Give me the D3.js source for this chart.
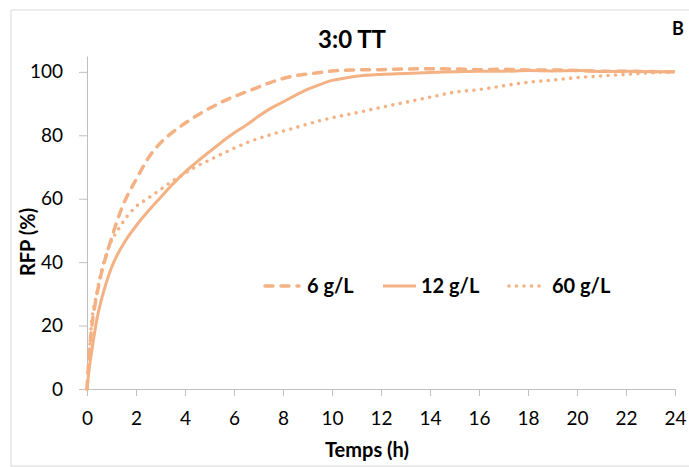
<!DOCTYPE html>
<html>
<head>
<meta charset="utf-8">
<script src="https://cdn.jsdelivr.net/npm/d3@7"></script>
<style>
  html, body { margin: 0; padding: 0; background: #fff; }
  svg { display: block; font-family: Lato, "Open Sans", sans-serif; }
</style>
</head>
<body>
<svg id="chart" width="689" height="467"></svg>
<script>
// ---- Data ----
const title = "3:0 TT";
const panelLetter = "B";
const xLabel = "Temps (h)";
const yLabel = "RFP (%)";
const xTicks = [0, 2, 4, 6, 8, 10, 12, 14, 16, 18, 20, 22, 24];
const yTicks = [0, 20, 40, 60, 80, 100];
const seriesNames = ["6 g/L", "12 g/L", "60 g/L"];

const t6 = [0, 0.1, 0.2, 0.35, 0.5, 0.65, 0.8, 1, 1.25, 1.5, 1.75, 2, 2.5, 3, 3.5, 4, 4.5, 5, 5.5, 6, 6.5, 7, 7.5, 8, 8.5, 9, 9.5, 10, 11, 12, 13, 14, 15, 16, 17, 18, 19, 20, 21, 22, 23, 24];
const v6 = [0, 12, 20, 27.5, 33.5, 38.5, 42.5, 47.5, 53.5, 58.5, 62.5, 66, 72.8, 77.6, 81, 83.8, 86.3, 88.5, 90.5, 92.2, 93.7, 95.2, 96.7, 97.9, 98.8, 99.3, 99.8, 100.3, 100.6, 100.7, 100.9, 101, 100.9, 100.7, 100.8, 100.6, 100.6, 100.4, 100.2, 100.2, 100.1, 100];

const t12 = [0, 0.1, 0.2, 0.3, 0.4, 0.55, 0.7, 0.85, 1, 1.25, 1.5, 1.75, 2, 2.5, 3, 3.5, 4, 4.5, 5, 5.5, 6, 6.5, 7, 7.5, 8, 8.5, 9, 9.5, 10, 10.5, 11, 12, 13, 14, 15, 16, 17, 18, 19, 20, 21, 22, 23, 24];
const v12 = [0, 7, 12.3, 17.3, 21.8, 27, 31.3, 35, 38.3, 42.5, 45.9, 48.8, 51.4, 56.1, 60.4, 64.6, 68.4, 71.7, 74.8, 77.9, 80.7, 83.2, 86, 88.5, 90.5, 92.6, 94.5, 96, 97.3, 98, 98.6, 99.2, 99.5, 99.8, 100, 100.2, 100.2, 100.4, 100.3, 100.4, 100.1, 100.2, 100.1, 100];

const t60 = [0, 0.05, 0.15, 0.4, 0.8, 1.35, 2, 2.5, 3, 3.5, 4, 4.5, 5, 5.5, 6, 6.5, 7, 7.5, 8, 8.5, 9, 9.5, 10, 11, 12, 13, 14, 15, 16, 17, 18, 19, 20, 21, 22, 23, 24];
const v60 = [0, 5, 17.6, 30.2, 42.8, 51.2, 57.5, 60.2, 62.9, 65.6, 68, 70.3, 72.2, 74.1, 75.9, 77.6, 79, 80.2, 81.3, 82.4, 83.5, 84.6, 85.5, 87.1, 88.8, 90.4, 92, 93.6, 94.4, 95.6, 96.7, 97.4, 98.2, 98.7, 99.2, 99.7, 100];

// ---- Build ----
const color = "#F4B183";
const series = [
  { name: seriesNames[0], t: t6, v: v6, dash: "8,8", cap: "round", w: 3.5 },
  { name: seriesNames[1], t: t12, v: v12, dash: null, cap: "butt", w: 3 },
  { name: seriesNames[2], t: t60, v: v60, dash: "0,7.5", cap: "round", w: 3.6 }
];

const svg = d3.select("#chart");
const x = d3.scaleLinear().domain([0, 24]).range([87, 675]);
const y = d3.scaleLinear().domain([0, 105]).range([389, 56]);

// outer border
svg.append("rect").attr("x", 11).attr("y", 10).attr("width", 690).attr("height", 456)
  .attr("fill", "none").attr("stroke", "#D9D9D9").attr("stroke-width", 1);

// axes
const yAxis = svg.append("g").attr("transform", "translate(87,0)")
  .call(d3.axisLeft(y).tickValues(yTicks).tickSize(8).tickSizeOuter(0).tickPadding(16));
const xAxis = svg.append("g").attr("transform", "translate(0,389)")
  .call(d3.axisBottom(x).tickValues(xTicks).tickSize(7).tickSizeOuter(0).tickPadding(16));
[xAxis, yAxis].forEach(g => {
  g.select(".domain").attr("stroke", "#BFBFBF").attr("stroke-width", 1);
  g.selectAll(".tick line").attr("stroke", "#BFBFBF");
  g.selectAll(".tick text").attr("fill", "#000").style("font-size", "19px")
    .style("font-family", "Lato, 'Open Sans', sans-serif");
});

// lines
const line = d3.line().x(d => x(d[0])).y(d => y(d[1])).curve(d3.curveMonotoneX);
series.forEach(s => {
  const pts = s.t.map((t, i) => [t, s.v[i]]);
  svg.append("path").datum(pts).attr("d", line)
    .attr("fill", "none").attr("stroke", color).attr("stroke-width", s.w)
    .attr("stroke-linecap", s.cap).attr("stroke-linejoin", "round")
    .attr("stroke-dasharray", s.dash);
});

// title & labels
svg.append("text").attr("x", 352).attr("y", 48).attr("text-anchor", "middle")
  .style("font-size", "24px").style("font-weight", "bold").text(title);
svg.append("text").attr("x", 672).attr("y", 35)
  .style("font-size", "18px").style("font-weight", "bold").text(panelLetter);
svg.append("text").attr("x", 367).attr("y", 457).attr("text-anchor", "middle")
  .style("font-size", "20px").style("font-weight", "bold").text(xLabel);
svg.append("text").attr("transform", "translate(35,242) rotate(-90)").attr("text-anchor", "middle")
  .style("font-size", "20px").style("font-weight", "bold").text(yLabel);

// legend
const legendItems = [
  { s: series[0], x1: 265, x2: 299, tx: 307 },
  { s: series[1], x1: 383, x2: 416, tx: 421 },
  { s: series[2], x1: 509, x2: 543, tx: 552 }
];
legendItems.forEach(li => {
  svg.append("line").attr("x1", li.x1).attr("x2", li.x2).attr("y1", 286).attr("y2", 286)
    .attr("stroke", color).attr("stroke-width", li.s.w)
    .attr("stroke-linecap", li.s.cap).attr("stroke-dasharray", li.s.dash);
  svg.append("text").attr("x", li.tx).attr("y", 293)
    .style("font-size", "20px").style("font-weight", "bold").text(li.s.name);
});
</script>
</body>
</html>
